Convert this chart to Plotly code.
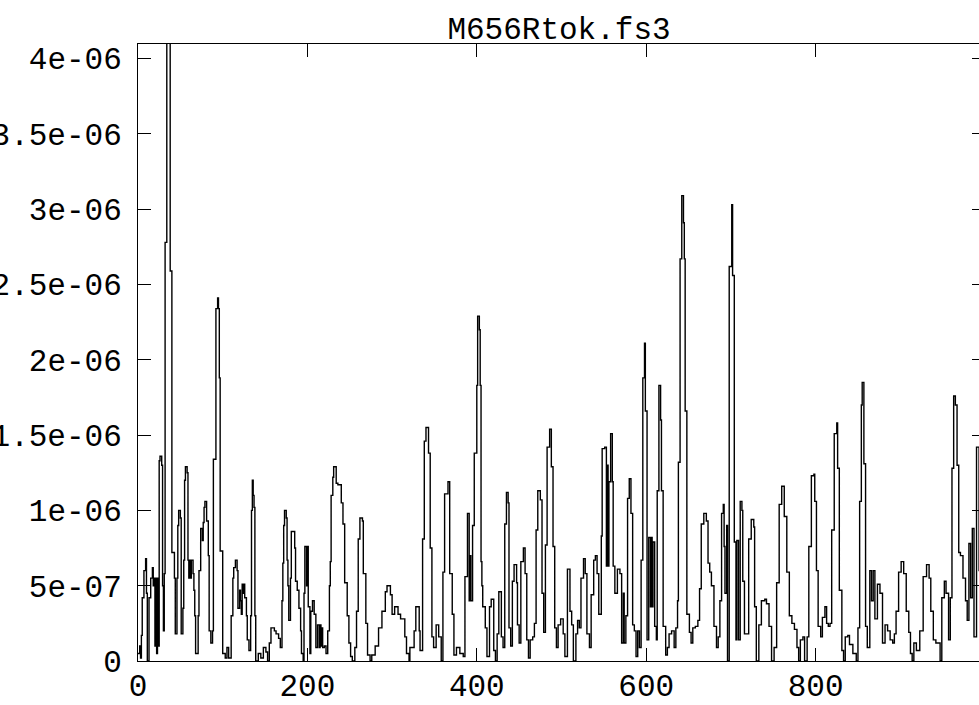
import plotly.graph_objects as go

# Spectrum samples (x = bin index, y in units of 1e-6)
bin_index = [
    0, 2, 3, 4, 5, 7, 9, 10, 11, 13, 15, 17, 18, 19, 20, 21, 22, 23, 24, 25, 26, 28, 29, 30, 31, 32, 34, 37, 38, 40,
    43, 44, 46, 47, 48, 50, 51, 53, 54, 55, 56, 58, 59, 60, 61, 62, 63, 65, 66, 67, 68, 71, 72, 74, 76, 77, 78, 79, 81, 83,
    84, 86, 88, 89, 92, 94, 95, 96, 97, 100, 103, 105, 107, 110, 112, 113, 115, 117, 118, 120, 121, 122, 123, 124, 125, 126, 128, 129, 131, 133,
    134, 135, 136, 137, 138, 139, 142, 145, 148, 151, 153, 155, 157, 161, 163, 166, 168, 170, 171, 172, 173, 175, 176, 177, 178, 180, 181, 183, 185, 186,
    188, 190, 192, 193, 195, 196, 197,
    198, 199, 200, 201, 203, 204, 206, 208, 210, 212, 214, 215, 216, 217, 218, 220, 222, 224, 226, 227, 228, 230, 231, 234, 236, 240, 242, 244, 247, 249,
    251, 253, 256, 258, 260, 262, 265, 266, 269, 271, 274, 276, 280, 284, 288, 292, 294, 298, 300, 303, 307, 310, 315, 317, 320, 321, 326, 328, 332, 333,
    336, 338, 340, 343, 345, 347, 349, 352, 355, 358, 360, 362, 366, 368, 371, 373, 376, 380, 384, 386, 389, 391, 392, 393, 395, 397, 400, 401, 403, 404,
    405,
    406, 407, 410, 412, 415, 417, 420, 422, 424, 426, 429, 431, 433, 435, 437, 438, 440, 442, 444, 447, 448, 450, 452, 455, 457, 459, 461, 463, 466, 468,
    470, 472, 475, 477, 479, 481, 483, 486, 488, 490, 492, 494, 496, 499, 502, 504, 507, 510, 512, 514, 517, 519, 521, 523, 526, 528, 530, 533, 535, 538,
    540, 542, 544, 547, 548, 551, 553, 554, 555, 556, 558, 560, 561, 563, 566, 569, 571, 573, 574, 576, 578, 580, 582, 584, 586, 588, 590, 592, 594, 596,
    598, 599, 601,
    603, 605, 606, 607, 608, 610, 612, 613, 615, 617, 618, 620, 623, 625, 627, 630, 633, 635, 637, 638, 640, 642, 644, 645, 646, 648, 651, 653, 655, 658,
    661, 663, 665, 668, 671, 673, 675, 677, 680, 683, 685, 687, 689, 691, 692, 693, 695, 696, 698, 701, 702, 704, 706, 707, 709, 711, 713, 714, 716, 719,
    721, 724, 727, 728, 730, 733, 736, 740, 742, 745, 748, 751, 754, 757, 760, 763, 766, 769, 772, 775, 778, 780, 782, 785, 787, 790, 792, 795,
    798, 799, 801, 803, 806, 808, 811, 813, 815, 817, 819, 822, 825, 826, 828, 831, 833, 835, 838, 840, 844, 848, 850, 852, 854, 855, 857, 859, 861, 864,
    866, 868, 870, 873, 876, 879, 882, 885, 888, 891, 893, 895, 898, 901, 904, 907, 910, 912, 914, 916, 919, 923, 927, 931, 934, 936, 939, 942, 947, 949,
    952, 954, 957, 959, 961, 963, 965, 967, 969, 971, 974, 977, 979, 981, 983, 985, 987, 990, 993, 996, 1000,
]

power_micro = [
    0.05, 0.1, 0.02, 0.17, 0.42, 0.6, 0.68, 0.45, 0.0, 0.42, 0.55, 0.62, 0.5, 0.55, 0.1, 0.55, 0.05, 0.55, 0.1, 1.33, 1.36, 1.3, 0.5, 0.2, 0.58, 2.78, 4.6, 4.5, 2.59, 0.72,
    0.55, 0.18, 0.55, 0.9, 1.0, 0.95, 0.18, 0.35, 0.67, 1.2, 1.29, 1.25, 0.67, 0.55, 0.67, 0.55, 0.67, 0.58, 0.47, 0.3, 0.05, 0.3, 0.6, 0.88, 0.8, 0.92, 1.02, 1.06, 0.93, 0.7,
    0.2, 0.12, 0.2, 1.34, 2.34, 2.41, 2.34, 1.88, 0.73, 0.05, 0.02, 0.09, 0.02, 0.3, 0.55, 0.62, 0.67, 0.6, 0.35, 0.47, 0.4, 0.31, 0.51, 0.45, 0.51, 0.42, 0.3, 0.14, 0.07, 0.3,
    1.0, 1.2, 1.1, 1.02, 0.3, 0.0, 0.05, 0.02, 0.09, 0.06, 0.0, 0.12, 0.22, 0.2, 0.18, 0.15, 0.09, 0.4, 0.65, 0.9, 1.0, 0.95, 0.67, 0.5, 0.27, 0.55, 0.86, 0.86, 0.75, 0.53,
    0.47, 0.35, 0.2, 0.05, 0.0, 0.45, 0.76,
    0.76, 0.5, 0.76, 0.36, 0.05, 0.33, 0.4, 0.31, 0.09, 0.24, 0.09, 0.24, 0.1, 0.22, 0.09, 0.1, 0.05, 0.2, 0.5, 0.66, 1.1, 1.22, 1.29, 1.18, 1.17, 1.05, 0.91, 0.52, 0.3, 0.12,
    0.03, 0.0, 0.09, 0.33, 0.81, 0.95, 0.93, 0.58, 0.25, 0.04, 0.0, 0.04, 0.1, 0.22, 0.33, 0.46, 0.5, 0.44, 0.31, 0.36, 0.31, 0.28, 0.16, 0.05, 0.0, 0.09, 0.2, 0.36, 0.2, 0.07,
    0.81, 1.46, 1.55, 1.38, 0.75, 0.16, 0.09, 0.24, 0.16, 0.0, 0.59, 1.11, 1.19, 0.58, 0.31, 0.04, 0.09, 0.05, 0.03, 0.56, 0.98, 0.4, 0.7, 0.4, 0.9, 1.38, 1.83, 2.29, 2.2, 1.83,
    0.66,
    0.5, 0.36, 0.22, 0.03, 0.36, 0.41, 0.07, 0.0, 0.18, 0.46, 0.16, 0.09, 0.91, 1.12, 1.05, 0.22, 0.1, 0.53, 0.64, 0.52, 0.24, 0.12, 0.66, 0.75, 0.58, 0.14, 0.02, 0.14, 0.16, 0.25,
    0.87, 1.13, 1.07, 0.45, 0.19, 0.77, 1.42, 1.54, 1.29, 0.76, 0.22, 0.09, 0.24, 0.28, 0.18, 0.03, 0.61, 0.33, 0.24, 0.0, 0.18, 0.27, 0.22, 0.55, 0.68, 0.58, 0.18, 0.09, 0.44, 0.67,
    0.7, 0.58, 0.31, 0.83, 1.41, 1.42, 0.63, 1.3, 0.63, 1.19, 1.51, 1.19, 0.63, 0.45, 0.61, 0.58, 0.12, 0.45, 0.12, 0.3, 1.08, 1.21, 0.98, 0.24, 0.2, 0.03, 0.2, 0.09, 0.67, 1.88,
    2.11, 1.66, 0.14,
    0.82, 0.36, 0.82, 0.36, 0.79, 0.23, 0.14, 1.13, 1.83, 1.6, 1.13, 0.23, 0.04, 0.09, 0.18, 0.2, 0.09, 0.22, 0.4, 1.32, 2.67, 3.09, 2.91, 2.67, 1.66, 0.31, 0.19, 0.12, 0.22, 0.23,
    0.27, 0.48, 0.91, 0.98, 0.93, 0.65, 0.59, 0.5, 0.23, 0.09, 0.16, 0.4, 0.98, 1.04, 0.76, 0.45, 0.9, 0.0, 2.62, 3.03, 2.56, 0.79, 0.14, 0.8, 0.14, 1.06, 1.0, 0.53, 0.18, 0.18,
    0.81, 0.94, 0.89, 0.36, 0.0, 0.24, 0.4, 0.41, 0.38, 0.23, 0.0, 0.09, 0.52, 1.04, 1.16, 0.96, 0.59, 0.3, 0.25, 0.21, 0.09, 0.0, 0.14, 0.16, 0.0, 0.16, 0.76, 1.23,
    1.24, 1.06, 0.6, 0.23, 0.16, 0.29, 0.36, 0.25, 0.23, 0.25, 0.87, 1.51, 1.58, 1.28, 0.47, 0.07, 0.0, 0.16, 0.17, 0.11, 0.05, 0.0, 0.22, 1.06, 1.7, 1.85, 1.31, 0.23, 0.09, 0.6,
    0.4, 0.6, 0.28, 0.51, 0.45, 0.12, 0.24, 0.2, 0.14, 0.12, 0.18, 0.33, 0.59, 0.66, 0.58, 0.33, 0.19, 0.05, 0.0, 0.12, 0.07, 0.2, 0.56, 0.64, 0.55, 0.33, 0.14, 0.12, 0.0, 0.42,
    0.53, 0.45, 0.14, 0.42, 1.28, 1.76, 1.7, 1.3, 0.72, 0.7, 0.55, 0.4, 0.27, 0.78, 0.42, 0.88, 0.16, 1.42, 0.6, 0.3, 0.2,
]

power = [v * 1e-6 for v in power_micro]

title_text = "M656Rtok.fs3"
x_tick_values = [0, 200, 400, 600, 800]
y_tick_values = [0, 5e-7, 1e-6, 1.5e-6, 2e-6, 2.5e-6, 3e-6, 3.5e-6, 4e-6]
y_tick_labels = ["0", "5e-07", "1e-06", "1.5e-06", "2e-06", "2.5e-06", "3e-06", "3.5e-06", "4e-06"]

FONT = "Liberation Mono"

fig = go.Figure()
fig.add_trace(go.Scatter(
    x=bin_index, y=power, mode="lines",
    line=dict(color="black", width=1.4, shape="hv"),
    hoverinfo="skip",
))

axis_common = dict(
    showline=True, linecolor="black", linewidth=1,
    mirror="ticks", ticks="inside", ticklen=13, tickwidth=1, tickcolor="black",
    showgrid=False, zeroline=False, automargin=False,
    tickfont=dict(family=FONT, size=31, color="black"),
)

fig.update_layout(
    width=990, height=705,
    margin=dict(l=138, r=5, t=44, b=44, autoexpand=False),
    paper_bgcolor="white", plot_bgcolor="white",
    showlegend=False,
    title=dict(
        text=title_text, xref="paper", x=(559 - 138) / 847, xanchor="center",
        yref="container", y=1 - 28 / 705, yanchor="middle",
        font=dict(family=FONT, size=31, color="black"),
        automargin=False,
    ),
    xaxis=dict(range=[0, 1000], tickvals=x_tick_values,
               ticktext=[str(v) for v in x_tick_values],
               ticklabelstandoff=-3, **axis_common),
    yaxis=dict(range=[0, 4.097e-6], tickvals=y_tick_values, ticktext=y_tick_labels,
               ticklabelstandoff=9, **axis_common),
)

fig.write_html(
    "out.html",
    config={"displayModeBar": False},
    post_script="document.body.style.margin='0';document.body.style.overflow='hidden';"
                "document.documentElement.style.overflow='hidden';",
)
